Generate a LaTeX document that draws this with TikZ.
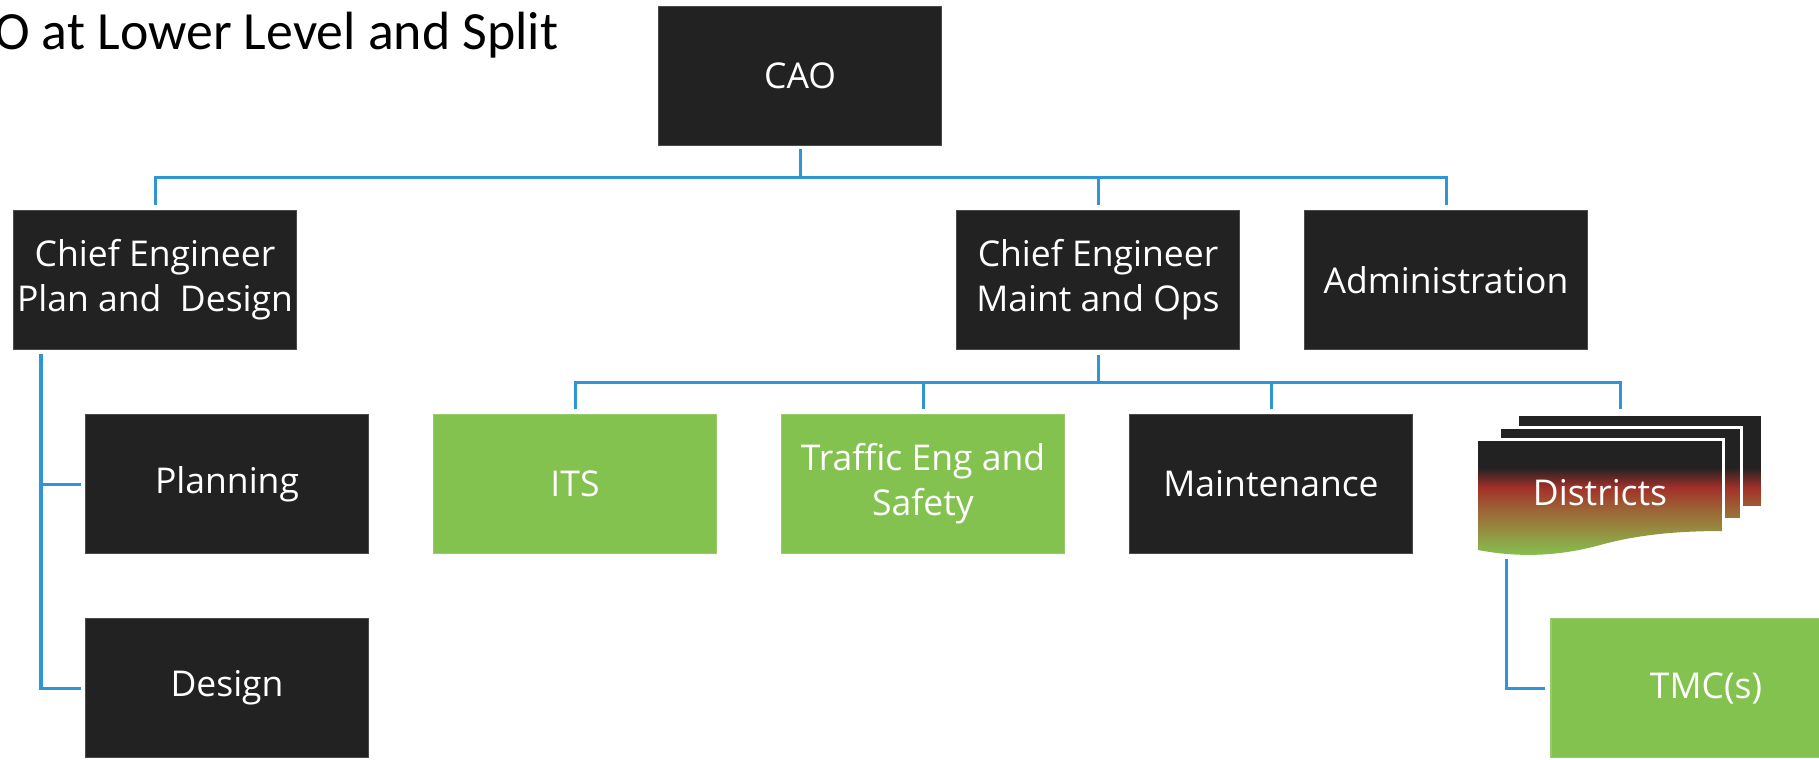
\documentclass[tikz,border=0pt]{standalone}
\usepackage{fontspec}
\setmainfont{Open Sans}
\newfontfamily\titlefont{Carlito}

\definecolor{boxdark}{HTML}{222222}
\definecolor{boxedge}{HTML}{4A4A4A}
\definecolor{boxgreen}{HTML}{84C250}
\definecolor{linkblue}{HTML}{2E96D4}
\definecolor{distred}{HTML}{A3302A}
\definecolor{distbrown}{HTML}{9C6034}
\definecolor{distolive}{HTML}{97893F}

\newcommand{\boxfont}{\fontsize{10.1}{12.8}\selectfont}

\pgfdeclareverticalshading{districts}{100bp}{color(0bp)=(boxgreen); color(25bp)=(boxgreen); color(34.9bp)=(distolive); color(42bp)=(distbrown); color(49.1bp)=(distred); color(56.2bp)=(boxdark); color(100bp)=(boxdark)}

\tikzset{
    darkbox/.style={rectangle, fill=boxdark, draw=boxedge, line width=0.4pt,
        text=white, font=\boxfont, align=center, inner sep=0pt,
        minimum width=2.83cm, minimum height=1.39cm},
    greenbox/.style={darkbox, fill=boxgreen, draw=boxgreen!85!white},
    link/.style={draw=linkblue, line width=0.03cm},
    sheet/.style={draw=white, line width=0.03cm},
}

\begin{document}
\begin{tikzpicture}[x=0.01cm, y=-0.01cm]
    \useasboundingbox (0,0) rectangle (1819,759);

    % Title, cut at the left edge
    \node[anchor=base east, inner sep=0pt, font=\titlefont\fontsize{15.3}{18}\selectfont] (title) at (559,49) {O at Lower Level and Split};

    % Draw the boxes
    \node[darkbox] (cao) at (800,76) {CAO};
    \node[darkbox] (cepd) at (155,280) {Chief Engineer\\Plan and~ Design};
    \node[darkbox] (cemo) at (1098,280) {Chief Engineer\\Maint and Ops};
    \node[darkbox] (admin) at (1446,280) {Administration};
    \node[darkbox] (plan) at (227,484) {Planning};
    \node[darkbox] (design) at (227,688) {Design};
    \node[greenbox] (its) at (575,484) {ITS};
    \node[greenbox] (traf) at (923,484) {Traffic Eng and\\Safety};
    \node[darkbox] (maint) at (1271,484) {Maintenance};
    \node[greenbox, minimum width=3.1cm] (tmc) at (1706,688) {TMC(s)};

    % Districts stack
    \foreach \xa/\ya/\xb/\yb in {1517/414/1762/507, 1499/427/1741/519} {
        \begin{scope}
            \clip (\xa,\ya) rectangle (\xb,\yb);
            \shade[shading=districts] (1470,414) rectangle (1770,556);
        \end{scope}
        \draw[sheet] (\xa,\ya) rectangle (\xb,\yb);
    }
    \begin{scope}
        \clip (1478,439) -- (1723,439) -- (1723,531)
            .. controls (1680,531) and (1640,534) .. (1600,545)
            .. controls (1560,556) and (1520,558) .. (1478,550) -- cycle;
        \shade[shading=districts] (1470,414) rectangle (1770,556);
    \end{scope}
    \draw[sheet] (1478,439) -- (1723,439) -- (1723,531);
    \node[text=white, font=\boxfont] (dist) at (1600,493) {Districts};

    % Connectors from the CAO
    \coordinate (bus1) at (800,177);
    \draw[link] ([yshift=-0.03cm]cao.south) -- (bus1);
    \foreach \n in {cepd, cemo, admin}
        \draw[link, shorten >=0.05cm] (bus1) -| (\n.north);

    % Connectors from Maint and Ops
    \coordinate (bus2) at (1098,382);
    \coordinate (distop) at (1620,414);
    \draw[link] ([yshift=-0.05cm]cemo.south) -- (bus2);
    \foreach \n in {its, traf, maint}
        \draw[link, shorten >=0.05cm] (bus2) -| (\n.north);
    \draw[link, shorten >=0.05cm] (bus2) -| (distop);

    % Plan and Design branch
    \coordinate (pdtrunk) at (41,354);
    \draw[link, shorten >=0.04cm] (pdtrunk) |- (design.west);
    \draw[link, shorten >=0.04cm] (pdtrunk |- plan.west) -- (plan.west);

    % Districts branch
    \coordinate (distrunk) at (1506,559);
    \draw[link, shorten >=0.05cm] (distrunk) |- (tmc.west);
\end{tikzpicture}
\end{document}
